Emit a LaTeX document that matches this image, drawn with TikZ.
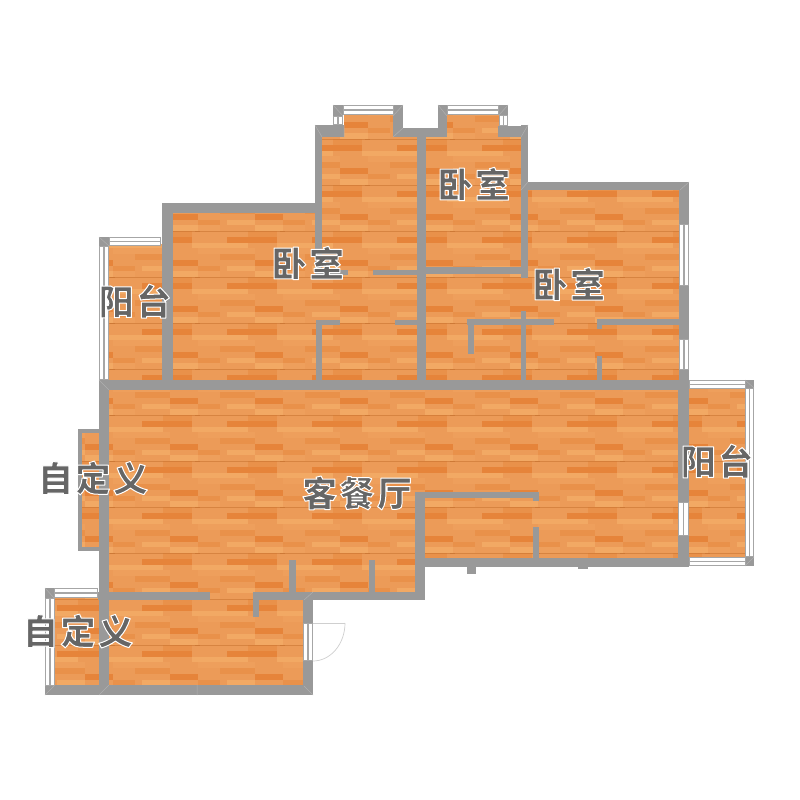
\documentclass[tikz,border=0pt]{standalone}
\usepackage{fontspec}
\newfontfamily\cjklabel[LetterSpace=7]{Noto Sans CJK SC}
\definecolor{wallc}{HTML}{999999}
\definecolor{jointc}{HTML}{B0B0B0}
\definecolor{winc}{HTML}{A6A6A6}
\definecolor{woodbase}{HTML}{EC9B58}
\definecolor{wooda}{HTML}{E9914A}
\definecolor{woodb}{HTML}{E6843A}
\definecolor{woodc}{HTML}{F2A964}
\definecolor{woodd}{HTML}{EE9F5C}
\definecolor{labelc}{HTML}{666666}
\definecolor{seam}{HTML}{C46F2C}
\definecolor{doorc}{HTML}{CFCFCF}
\tikzset{
  joint/.style={draw=jointc,line width=0.5pt},
  doorarc/.style={draw=doorc,line width=0.7pt},
  roomlabel/.style={text=labelc,inner sep=0pt,font=\cjklabel\bfseries\fontsize{35}{35}\selectfont},
}
\newcommand\halotext[1]{\special{pdf:code 2 Tr 1 1 1 RG 1 w 1 j}#1\special{pdf:code 0 Tr}}
\newcommand\wall[4]{\fill[wallc] (#1,#2) rectangle (#3,#4);}
% horizontal window: frame with two white bands
\newcommand\hwin[4]{\fill[winc] (#1,#2) rectangle (#3,#4);
  \fill[white] (#1+0.8,#2+1.4) rectangle (#3-0.8,{(#2+#4)/2-0.65});
  \fill[white] (#1+0.8,{(#2+#4)/2+0.65}) rectangle (#3-0.8,#4-1.4);}
\newcommand\vwin[4]{\fill[winc] (#1,#2) rectangle (#3,#4);
  \fill[white] (#1+1.4,#2+0.8) rectangle ({(#1+#3)/2-0.65},#4-0.8);
  \fill[white] ({(#1+#3)/2+0.65},#2+0.8) rectangle (#3-1.4,#4-0.8);}
\newcommand\woodtile{%
  \fill[wooda]    (-7,0)     rectangle (22,5.75);
  \fill[woodb]    (-28,5.75) rectangle (22,11.5);
  \fill[woodc]    (-35,11.5) rectangle (-7,17.25);
  \fill[woodc]    (22,11.5)  rectangle (50,17.25);
  \fill[woodd]    (-57,17.25) rectangle (0,23);
  \fill[wooda]    (-35,23)   rectangle (0,28.75);
  \fill[woodb]    (0,28.75)  rectangle (28,34.5);
  \fill[woodc]    (-28,34.5) rectangle (0,40.25);
  \fill[woodc]    (0,40.25)  rectangle (28,46);
  \fill[wooda]    (28,34.5)  rectangle (50,40.25);
  \fill[woodd]    (-57,40.25) rectangle (-35,46);
  \draw[seam,line width=0.4pt,opacity=0.5] (-60,0) -- (30,0);
}
\begin{document}
\begin{tikzpicture}[x=1pt,y=-1pt]
\useasboundingbox (0,0) rectangle (800,800);
\fill[white] (0,0) rectangle (800,800);
% ---- floor
\begin{scope}
\clip (172,210) rectangle (420,386)
      (318,130) rectangle (420,212)
      (344,114) rectangle (394,140)
      (447,114) rectangle (499,140)
      (424,130) rectangle (525,272)
      (424,268) rectangle (682,386)
      (525,186) rectangle (682,272)
      (106,244) rectangle (165,386)
      (106,385) rectangle (682,492)
      (106,490) rectangle (420,596)
      (415,490) rectangle (682,562)
      (106,595) rectangle (306,690)
      (682,385) rectangle (747,562)
      (80,431)  rectangle (102,549)
      (53,597)  rectangle (102,688);
\fill[woodbase] (40,100) rectangle (760,700);
\foreach \col in {0,...,9}{
  \foreach \row in {2,...,15}{
    \begin{scope}[shift={(\col*85,\row*46-45)}]
      \woodtile
    \end{scope}
  }
}
\end{scope}
% ---- walls: top bays
\wall{333}{105}{343}{116}
\wall{393}{105}{403}{137}
\wall{315}{125}{344}{137}
\wall{393}{128}{447}{137}
\wall{438}{105}{447}{137}
\wall{499}{105}{508}{115}
\wall{498}{126}{528}{137}
% vertical walls, upper
\wall{315}{125}{322}{272}
\wall{417}{128}{426}{385}
\wall{521}{125}{528}{278}
\wall{162}{203}{173}{385}
\wall{162}{203}{322}{213}
\wall{521}{182}{689}{190}
\wall{679}{182}{689}{390}
% inner partitions, upper
\wall{315}{270}{348}{275}
\wall{373}{270}{420}{275}
\wall{426}{267}{525}{274}
\wall{316}{320}{340}{325}
\wall{316}{320}{322}{383}
\wall{395}{320}{420}{325}
\wall{467}{319}{554}{325}
\wall{468}{319}{474}{354}
\wall{521}{311}{526}{383}
\wall{597}{319}{682}{325}
\wall{597}{319}{602}{329}
\wall{597}{356}{602}{383}
% main horizontal and outer walls
\wall{99}{380}{689}{390}
\wall{99}{380}{109}{695}
\wall{78}{429}{99}{433}
\wall{78}{547}{99}{551}
\wall{78}{429}{82}{551}
\wall{678}{381}{689}{567}
\wall{415}{492}{425}{600}
\wall{415}{492}{539}{498}
\wall{533}{492}{539}{501}
\wall{533}{527}{539}{562}
\wall{424}{558}{689}{567}
\wall{467}{566}{476}{574}
\wall{578}{566}{588}{569}
% lower part
\wall{98}{592}{210}{600}
\wall{254}{592}{424}{600}
\wall{253}{592}{259}{617}
\wall{289}{560}{296}{592}
\wall{369}{560}{375}{592}
\wall{303}{592}{313}{695}
\wall{45}{685}{313}{695}
\wall{45}{588}{54}{598}
\wall{99}{237}{109}{246}
\wall{745}{380}{754}{388}
\wall{745}{557}{754}{566}
% ---- wall joints
\draw[joint] (333,105) -- (343,116) (403,105) -- (393,116) (315,125) -- (322,137) (344,125) -- (344,137)
  (403,128) -- (393,137) (438,105) -- (447,116) (508,105) -- (499,115) (528,125) -- (521,137)
  (528,182) -- (521,190) (689,182) -- (680,190) (99,380) -- (109,390) (99,695) -- (109,685)
  (45,695) -- (54,686) (313,695) -- (304,686) (197,685) -- (197,695) (313,592) -- (304,600)
  (745,380) -- (754,388) (745,566) -- (754,557) (45,588) -- (54,598) (99,237) -- (109,246);
% ---- windows
\hwin{343}{105}{394}{115}
\vwin{333}{116}{343}{125}
\hwin{447}{105}{499}{115}
\vwin{498.5}{115}{508}{126}
\vwin{679}{224}{689}{286}
\vwin{679}{339}{689}{370}
\hwin{109}{237}{161}{246}
\vwin{99}{246}{109}{380}
\vwin{678}{502}{689}{536}
\hwin{689}{380}{746}{389}
\vwin{745}{388}{754}{557}
\hwin{689}{557}{746}{566}
\hwin{54}{588}{98}{598}
\vwin{45}{598}{55}{686}
\vwin{303}{623}{313}{661}
% ---- door
\draw[doorarc] (313,623) -- (345,623);
\draw[doorarc] (345,623) arc[start angle=0,end angle=90,x radius=32,y radius=38];
% ---- labels
\node[roomlabel] (bedroomA) at (308,263) {\halotext{卧室}};
\node[roomlabel] (bedroomB) at (474,184) {\halotext{卧室}};
\node[roomlabel] (bedroomC) at (569,284) {\halotext{卧室}};
\node[roomlabel] (balconyA) at (135,301) {\halotext{阳台}};
\node[roomlabel] (balconyB) at (717,461) {\halotext{阳台}};
\node[roomlabel] (living)   at (357,493) {\halotext{客餐厅}};
\node[roomlabel] (customA)  at (93,478)  {\halotext{自定义}};
\node[roomlabel] (customB)  at (78,631)  {\halotext{自定义}};
\end{tikzpicture}
\end{document}
